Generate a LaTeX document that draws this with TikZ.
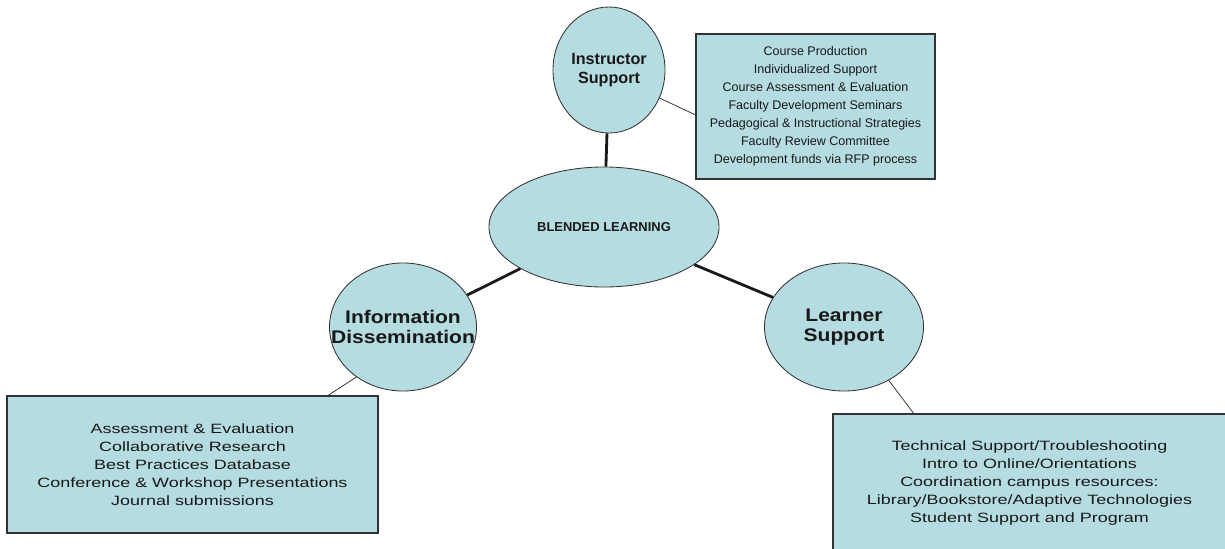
\documentclass[tikz,border=0pt]{standalone}
\usepackage{fontspec}
\setmainfont{Liberation Sans}
\newfontfamily\widefont[FakeStretch=1.33]{Liberation Sans}
\newfontfamily\widebold[FakeStretch=1.15]{Liberation Sans}
\usetikzlibrary{shapes.geometric}
\definecolor{paleblue}{RGB}{181,220,224}

\begin{document}
\begin{tikzpicture}[x=0.025cm,y=-0.025cm,
    bubble/.style={ellipse,draw=black!80,line width=0.6pt,fill=paleblue,inner sep=0pt,align=center,text=black!90},
    listbox/.style={rectangle,draw=black!80,line width=0.8pt,fill=paleblue,inner sep=0pt,align=center,text=black!90},
    stem/.style={line width=2pt,black!90},
    twig/.style={line width=0.5pt,black!85}]
    \clip (0,0) rectangle (1225,548);
    % circles
    \node [bubble,minimum width=2.8cm,minimum height=3.15cm,font=\bfseries\fontsize{11.5}{14}\selectfont] (inst) at (609,70) {Instructor\\Support};
    \node [bubble,minimum width=5.75cm,minimum height=3cm,font=\bfseries\fontsize{9.2}{11}\selectfont] (blend) at (604,227) {BLENDED LEARNING};
    \node [bubble,minimum width=3.675cm,minimum height=3.2cm,
        label={[align=center,text=black!90,font=\widebold\bfseries\fontsize{13}{14}\selectfont]center:Information\\Dissemination}] (info) at (403,327) {};
    \node [bubble,minimum width=3.975cm,minimum height=3.2cm,font=\widebold\bfseries\fontsize{13}{14}\selectfont] (learn) at (844,327) {Learner\\Support};
    % boxes
    \node [listbox,minimum width=5.975cm,minimum height=3.625cm,font=\fontsize{8.9}{12.8}\selectfont] (instbox) at (815.5,106.5)
        {Course Production\\Individualized Support\\Course Assessment \& Evaluation\\Faculty Development Seminars\\Pedagogical \& Instructional Strategies\\Faculty Review Committee\\Development funds via RFP process};
    \node [listbox,minimum width=9.275cm,minimum height=3.425cm,font=\widefont\fontsize{9.6}{12.8}\selectfont] (infobox) at (192.5,464.5)
        {Assessment \& Evaluation\\Collaborative Research\\Best Practices Database\\Conference \& Workshop Presentations\\Journal submissions};
    \node [listbox,minimum width=9.825cm,minimum height=3.45cm,font=\widefont\fontsize{9.6}{12.8}\selectfont] (learnbox) at (1029.5,483)
        {Technical Support/Troubleshooting\\Intro to Online/Orientations\\Coordination campus resources:\\Library/Bookstore/Adaptive Technologies\\Student Support and Program};
    % links
    \draw [stem] (inst) -- (blend);
    \draw [stem] (blend) -- (info);
    \draw [stem] (blend) -- (learn);
    \draw [twig] (inst.-29) -- (instbox.184);
    \draw [twig] (info.227) -- (infobox.27.7);
    \draw [twig] (learn.-50) -- (learnbox.149.8);
\end{tikzpicture}
\end{document}
